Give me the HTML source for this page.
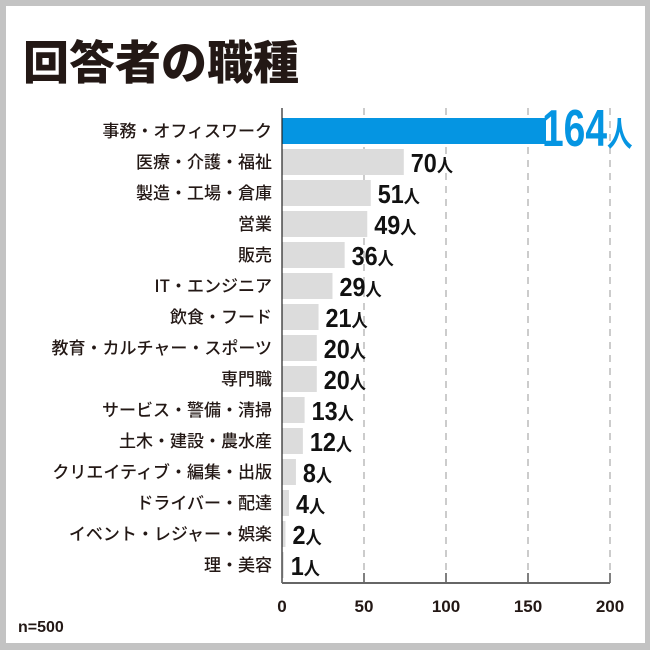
<!DOCTYPE html>
<html><head><meta charset="utf-8">
<style>
html,body{margin:0;padding:0;background:#c3c3c3;}
#frame{position:absolute;left:6px;top:6px;width:639px;height:637px;background:#fff;}
svg{position:absolute;left:0;top:0;}
text{font-family:"Liberation Sans","Noto Sans CJK JP",sans-serif;fill:#231815;}
</style></head>
<body>
<div id="frame"></div>
<svg id="chart" width="650" height="650">
<text x="23" y="79" font-size="46" font-weight="bold" style="font-family:'Noto Sans CJK JP',sans-serif;font-weight:900">回答者の職種</text>
<text x="18" y="632" font-size="16" font-weight="bold">n=500</text>
</svg>
<script>
const categories=["事務・オフィスワーク","医療・介護・福祉","製造・工場・倉庫","営業","販売","IT・エンジニア","飲食・フード","教育・カルチャー・スポーツ","専門職","サービス・警備・清掃","土木・建設・農水産","クリエイティブ・編集・出版","ドライバー・配達","イベント・レジャー・娯楽","理・美容"];
const values=[164,70,51,49,36,29,21,20,20,13,12,8,4,2,1];
const ticks=[0,50,100,150,200];
const svg=document.getElementById('chart');
const NS='http://www.w3.org/2000/svg';
const x0=282,x1=610,yTop=108,yBase=583,rowTop=118,pitch=31,barH=26;
const xs=v=>x0+(v/200)*(x1-x0);
const xb=v=>Math.min(x0+v*1.74,546);
const yr=i=>rowTop+i*pitch;
function mk(t,a){const e=document.createElementNS(NS,t);for(const k in a)e.setAttribute(k,a[k]);svg.appendChild(e);return e;}
ticks.forEach((t,i)=>{
  if(t>0){const g=mk('line',{x1:xs(t),x2:xs(t),y1:yTop,y2:yBase,stroke:'#999','stroke-width':1,'stroke-dasharray':'7,6'});
  
  
  const tk=mk('line',{x1:xs(t),x2:xs(t),y1:yBase-10,y2:yBase,stroke:'#555','stroke-width':1.5});
  
  }
  const l=mk('text',{x:xs(t),y:yBase+29,'text-anchor':'middle','font-size':17,'font-weight':'bold'});
  l.textContent=t;
  
  
});
values.forEach((v,i)=>{
  const top=yr(i);
  const big=i===0;
  const r=mk('rect',{x:x0,y:top,width:xb(v)-x0,height:barH});
  r.style.fill=big?'#0595e2':'#dcdcdc';
  
  
  const c=mk('text',{x:272,y:top+barH/2+6,'text-anchor':'end','font-size':17});
  c.textContent=categories[i];
  c.style.fontFamily="'Noto Sans CJK JP',sans-serif";
  c.style.fontWeight="500";
  
  
  const lx=big?xb(v)-4:xb(v)+7;
  const sc=big?0.75:0.9;
  const t=mk('text',{x:lx,y:big?top+28:top+23,'font-size':big?52:26,'font-weight':'bold'});
  t.style.fill=big?'#0595e2':'#111';
  t.setAttribute('transform','translate('+lx+',0) scale('+sc+',1) translate('+(-lx)+',0)');
  t.innerHTML=v+'<tspan font-size="'+(big?34:18)+'" style="font-family:\'Noto Sans CJK JP\',sans-serif;font-weight:bold">人</tspan>';
  
  
});
const ax=mk('line',{x1:x0,x2:x0,y1:yTop,y2:yBase,stroke:'#222','stroke-width':1.2});


const bx=mk('line',{x1:x0,x2:x1,y1:yBase,y2:yBase,stroke:'#666','stroke-width':2});


</script>
</body></html>
